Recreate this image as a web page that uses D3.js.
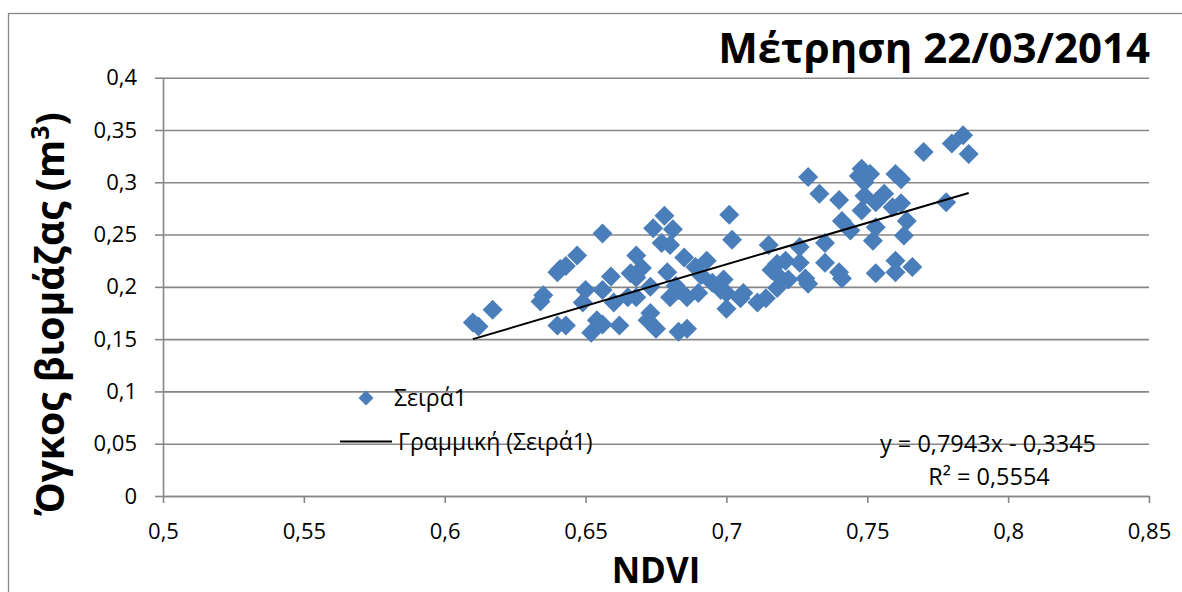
<!DOCTYPE html>
<html><head><meta charset="utf-8">
<script src="https://cdn.jsdelivr.net/npm/d3@7"></script>
<style>
body{margin:0;background:#fff}
svg{display:block}
text{font-family:"Open Sans","Noto Sans",sans-serif;fill:#000}
</style></head>
<body><svg id="c" width="1182" height="592"></svg>
<script>
// ---- data ----
const ndvi = [0.610,0.612,0.617,0.634,0.635,0.640,0.641,0.643,0.647,0.640,0.643,0.650,0.649,0.654,0.652,0.656,0.656,0.656,0.659,0.660,
  0.662,0.665,0.666,0.668,0.668,0.670,0.668,0.673,0.674,0.678,0.681,0.677,0.680,0.679,0.673,0.672,0.675,0.680,0.682,0.683,
  0.683,0.686,0.685,0.686,0.690,0.689,0.691,0.693,0.695,0.698,0.699,0.700,0.700,0.701,0.702,0.705,0.706,0.711,0.714,0.715,
  0.716,0.718,0.718,0.719,0.721,0.722,0.726,0.726,0.728,0.729,0.729,0.733,0.735,0.735,0.740,0.740,0.741,0.741,0.744,0.747,
  0.748,0.749,0.748,0.751,0.760,0.749,0.756,0.753,0.762,0.759,0.753,0.764,0.753,0.752,0.763,0.760,0.760,0.766,0.770,0.778,
  0.780,0.784,0.786,0.762];
const biomass = [0.166,0.162,0.178,0.186,0.192,0.214,0.217,0.220,0.230,0.163,0.163,0.197,0.185,0.168,0.156,0.164,0.251,0.197,0.210,0.185,
  0.163,0.190,0.213,0.190,0.209,0.218,0.230,0.200,0.256,0.268,0.255,0.242,0.240,0.214,0.175,0.168,0.160,0.190,0.201,0.197,
  0.157,0.160,0.228,0.190,0.194,0.219,0.211,0.225,0.204,0.197,0.207,0.194,0.179,0.269,0.245,0.189,0.194,0.185,0.189,0.240,
  0.216,0.222,0.199,0.209,0.225,0.207,0.238,0.223,0.208,0.203,0.305,0.289,0.242,0.223,0.283,0.214,0.263,0.208,0.254,0.306,
  0.313,0.300,0.273,0.308,0.308,0.287,0.289,0.281,0.280,0.276,0.213,0.263,0.257,0.244,0.249,0.225,0.214,0.219,0.329,0.281,
  0.337,0.345,0.327,0.303];
const xTicks = [0.5,0.55,0.6,0.65,0.7,0.75,0.8,0.85];
const xTickLabels = ["0,5","0,55","0,6","0,65","0,7","0,75","0,8","0,85"];
const yTicks = [0,0.05,0.1,0.15,0.2,0.25,0.3,0.35,0.4];
const yTickLabels = ["0","0,05","0,1","0,15","0,2","0,25","0,3","0,35","0,4"];
const trendSlope = 0.7943, trendIntercept = -0.3345;
const trendLabel = "y = 0,7943x - 0,3345";
const r2Label = "R² = 0,5554";
const seriesName = "Σειρά1";
const trendName = "Γραμμική (Σειρά1)";
const titleText = "Μέτρηση 22/03/2014";
const xTitle = "NDVI";
const yTitle = "Όγκος βιομάζας (m";

// ---- layout ----
const L = 163, R = 1149, T = 77.7, B = 496;
const gray = "#878787", blue = "#4A7EBB";
const svg = d3.select("#c");
const x = d3.scaleLinear().domain([0.5,0.85]).range([L,R]);
const y = d3.scaleLinear().domain([0,0.4]).range([B,T]);

// outer chart border
svg.append("rect").attr("x",8.5).attr("y",13.5).attr("width",1180).attr("height",620)
  .attr("fill","none").attr("stroke",gray).attr("stroke-width",1.3);

// gridlines
const grid = svg.append("g").attr("transform",`translate(${L},0)`)
  .call(d3.axisLeft(y).tickValues(yTicks).tickSize(-(R-L)).tickFormat(""));
grid.select(".domain").remove();
grid.selectAll("line").attr("stroke",gray).attr("stroke-width",1.6);

// y axis
const ya = svg.append("g").attr("transform",`translate(${L},0)`)
  .call(d3.axisLeft(y).tickValues(yTicks).tickSizeInner(8).tickSizeOuter(0).tickPadding(18)
    .tickFormat((d,i)=>yTickLabels[i]));
ya.select(".domain").attr("stroke",gray).attr("stroke-width",1.6);
ya.selectAll("line").attr("stroke",gray).attr("stroke-width",1.6);
ya.selectAll("text").attr("font-size",22).attr("font-family","'Open Sans'").attr("fill","#000");

// x axis
const xa = svg.append("g").attr("transform",`translate(0,${B})`)
  .call(d3.axisBottom(x).tickValues(xTicks).tickSizeInner(7).tickSizeOuter(0).tickPadding(20)
    .tickFormat((d,i)=>xTickLabels[i]));
xa.select(".domain").attr("stroke",gray).attr("stroke-width",1.6);
xa.selectAll("line").attr("stroke",gray).attr("stroke-width",1.6);
xa.selectAll("text").attr("font-size",22).attr("font-family","'Open Sans'").attr("fill","#000");

// legend
const sym = d3.symbol(d3.symbolSquare, 200);
svg.append("path").attr("d",sym()).attr("fill",blue)
  .attr("transform","translate(366,398) rotate(45) scale(0.75)");
svg.append("text").attr("x",394).attr("y",406).attr("font-size",23).text(seriesName);
svg.append("line").attr("x1",340).attr("x2",392).attr("y1",441.5).attr("y2",441.5)
  .attr("stroke","#000").attr("stroke-width",2);
svg.append("text").attr("x",398).attr("y",450).attr("font-size",23).text(trendName);

// points
svg.append("g").selectAll("path").data(ndvi).join("path")
  .attr("d",sym())
  .attr("fill",blue)
  .attr("transform",(d,i)=>`translate(${x(d)},${y(biomass[i])}) rotate(45)`);

// trendline
const x0 = d3.min(ndvi), x1 = d3.max(ndvi);
svg.append("line")
  .attr("x1",x(x0)).attr("y1",y(trendSlope*x0+trendIntercept))
  .attr("x2",x(x1)).attr("y2",y(trendSlope*x1+trendIntercept))
  .attr("stroke","#000").attr("stroke-width",2);

// trend labels
svg.append("text").attr("x",988).attr("y",452).attr("text-anchor","middle").attr("font-size",23.5).text(trendLabel);
svg.append("text").attr("x",989).attr("y",485).attr("text-anchor","middle").attr("font-size",23.5).text(r2Label);

// title
svg.append("text").attr("x",1150).attr("y",63).attr("text-anchor","end")
  .attr("font-size",42).attr("font-weight","bold").text(titleText);

// axis titles
svg.append("text").attr("x",656).attr("y",583).attr("text-anchor","middle")
  .attr("font-size",35).attr("font-weight","bold").text(xTitle);
const yt = svg.append("text").attr("transform","translate(64,314) rotate(-90)")
  .attr("text-anchor","middle").attr("font-size",39).attr("font-weight","bold");
yt.append("tspan").text(yTitle);
yt.append("tspan").attr("dy",-15).attr("font-size",25).text("3");
yt.append("tspan").attr("dy",15).text(")");
</script>
</body></html>
